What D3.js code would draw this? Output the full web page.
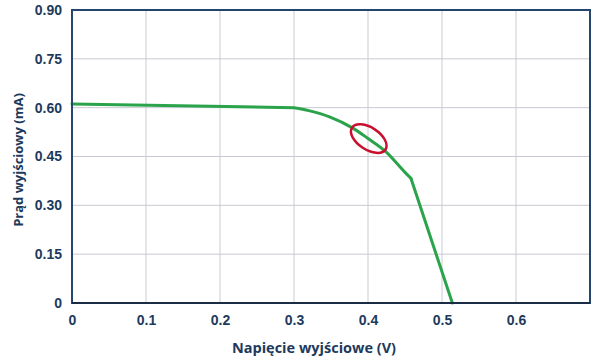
<!DOCTYPE html>
<html><head><meta charset="utf-8">
<script src="https://cdn.jsdelivr.net/npm/d3@7"></script>
<style>body{margin:0;background:#fff}svg{display:block}</style>
</head><body>
<script>
const voltage = [0, 0.30, 0.32, 0.348, 0.379, 0.399, 0.424, 0.451, 0.458, 0.514];
const current = [0.611, 0.600, 0.591, 0.572, 0.538, 0.507, 0.465, 0.399, 0.383, 0];
const xTicks = [0, 0.1, 0.2, 0.3, 0.4, 0.5, 0.6];
const xTickLabels = ["0", "0.1", "0.2", "0.3", "0.4", "0.5", "0.6"];
const yTicks = [0, 0.15, 0.30, 0.45, 0.60, 0.75, 0.90];
const yTickLabels = ["0", "0.15", "0.30", "0.45", "0.60", "0.75", "0.90"];
const marker = {v: 0.401, i: 0.505};

const W = 600, H = 364;
const m = {l: 72, r: 10, t: 10, b: 61};
const svg = d3.select("body").append("svg").attr("width", W).attr("height", H);
const x = d3.scaleLinear().domain([0, 0.7]).range([m.l, W - m.r]);
const y = d3.scaleLinear().domain([0, 0.9]).range([H - m.b, m.t]);
const navy = "#1d3a5c";

// grid
svg.append("g").selectAll("line").data(xTicks.slice(1)).join("line")
  .attr("x1", d => x(d)).attr("x2", d => x(d)).attr("y1", y(0)).attr("y2", y(0.9))
  .attr("stroke", "#c9c9d3").attr("stroke-width", 1);
svg.append("g").selectAll("line").data(yTicks.slice(1)).join("line")
  .attr("x1", x(0)).attr("x2", x(0.7)).attr("y1", d => y(d)).attr("y2", d => y(d))
  .attr("stroke", "#c9c9d3").attr("stroke-width", 1);

// curve: smooth knee (first part), straight drop (last segment)
const pts = voltage.map((v, i) => [v, current[i]]);
const kink = pts.length - 2;
const smooth = d3.line().x(d => x(d[0])).y(d => y(d[1])).curve(d3.curveMonotoneX);
const straight = d3.line().x(d => x(d[0])).y(d => y(d[1])).curve(d3.curveLinear);
const g = svg.append("g").attr("fill", "none").attr("stroke", "#2aa34a").attr("stroke-width", 3)
  .attr("stroke-linejoin", "round").attr("stroke-linecap", "round");
g.append("path").attr("d", smooth(pts.slice(1, kink + 1)) + straight([pts[0], pts[1]]).replace("M", "M"));
g.append("path").attr("d", straight(pts.slice(kink)));

// marker ellipse
svg.append("ellipse").attr("cx", 0).attr("cy", 0).attr("rx", 20).attr("ry", 11)
  .attr("transform", `translate(${x(marker.v)},${y(marker.i)}) rotate(33)`)
  .attr("fill", "none").attr("stroke", "#c8102e").attr("stroke-width", 2.5);

// border
svg.append("rect").attr("x", x(0)).attr("y", y(0.9)).attr("width", x(0.7) - x(0)).attr("height", y(0) - y(0.9))
  .attr("fill", "none").attr("stroke", "#24466e").attr("stroke-width", 2);
svg.append("line").attr("x1", x(0)).attr("x2", x(0.7)).attr("y1", y(0)).attr("y2", y(0))
  .attr("stroke", "#1b2d45").attr("stroke-width", 2);

// axes
const xAxis = d3.axisBottom(x).tickValues(xTicks).tickFormat((d, i) => xTickLabels[i]).tickSize(0).tickPadding(12);
const gx = svg.append("g").attr("transform", `translate(0,${y(0)})`).call(xAxis);
gx.select(".domain").remove();
gx.selectAll("text").attr("font-family", "Liberation Sans, Arial, sans-serif").attr("font-weight", "bold")
  .attr("font-size", 14).attr("fill", navy);

const yAxis = d3.axisLeft(y).tickValues(yTicks).tickFormat((d, i) => yTickLabels[i]).tickSize(0).tickPadding(10);
const gy = svg.append("g").attr("transform", `translate(${x(0)},0)`).call(yAxis);
gy.select(".domain").remove();
gy.selectAll("text").attr("font-family", "Liberation Sans, Arial, sans-serif").attr("font-weight", "bold")
  .attr("font-size", 14).attr("fill", navy);

// titles
svg.append("text").attr("x", 314).attr("y", 353).attr("text-anchor", "middle")
  .attr("font-family", "Open Sans, sans-serif").attr("font-weight", "bold").attr("font-size", 14.5)
  .attr("fill", navy).text("Napięcie wyjściowe (V)");
svg.append("text").attr("transform", "translate(23,160) rotate(-90)").attr("text-anchor", "middle")
  .attr("font-family", "Open Sans, sans-serif").attr("font-weight", "bold").attr("font-size", 13)
  .attr("fill", navy).text("Prąd wyjściowy (mA)");
</script>
</body></html>
